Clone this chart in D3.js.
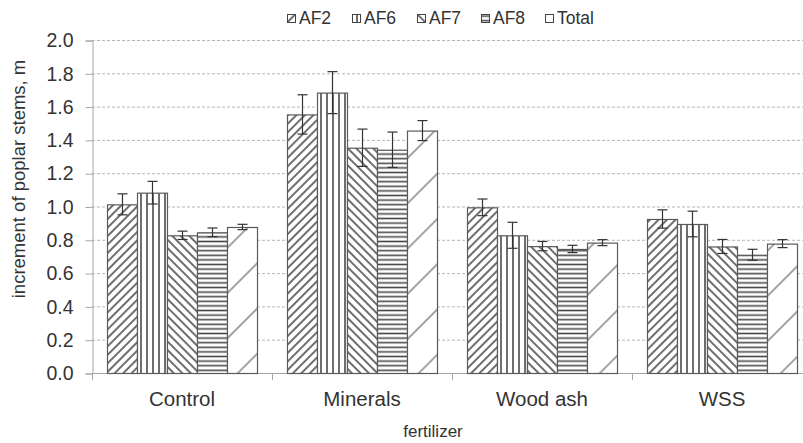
<!DOCTYPE html>
<html>
<head>
<meta charset="utf-8">
<script src="https://cdn.jsdelivr.net/npm/d3@7"></script>
<style>
  body { margin: 0; background: #fff; }
  svg text { font-family: "Liberation Sans", Arial, sans-serif; fill: #333; }
</style>
</head>
<body>
<svg id="chart" width="803" height="443"></svg>
<script>
// datos
const categories = ['Control', 'Minerals', 'Wood ash', 'WSS'];
const series = ['AF2', 'AF6', 'AF7', 'AF8', 'Total'];
const values = {
  AF2:   [1.013, 1.553, 0.995, 0.925],
  AF6:   [1.083, 1.684, 0.827, 0.895],
  AF7:   [0.827, 1.353, 0.762, 0.760],
  AF8:   [0.845, 1.341, 0.745, 0.710],
  Total: [0.877, 1.456, 0.783, 0.777],
};
const errors = {
  AF2:   [0.063, 0.118, 0.050, 0.055],
  AF6:   [0.068, 0.126, 0.078, 0.077],
  AF7:   [0.025, 0.112, 0.028, 0.042],
  AF8:   [0.026, 0.106, 0.022, 0.033],
  Total: [0.016, 0.060, 0.018, 0.024],
};
const yTicks = [0, 0.2, 0.4, 0.6, 0.8, 1.0, 1.2, 1.4, 1.6, 1.8, 2.0];

const svg = d3.select('#chart');
const margin = { left: 92, top: 40, bottom: 373, right: 812 };

const x = d3.scaleBand().domain(categories).range([margin.left, margin.right]);
const xs = d3.scaleBand().domain(series).range([0, x.bandwidth()]).paddingOuter(0.5).paddingInner(0);
const y = d3.scaleLinear().domain([0, 2]).range([margin.bottom, margin.top]);

// patrones de relleno
const defs = svg.append('defs');
function hatch(id, size, angle, sw, color) {
  const p = defs.append('pattern')
    .attr('id', id)
    .attr('patternUnits', 'userSpaceOnUse')
    .attr('width', size).attr('height', size)
    .attr('patternTransform', 'rotate(' + angle + ')');
  p.append('rect').attr('width', size).attr('height', size).attr('fill', '#fff');
  p.append('line').attr('x1', size / 2).attr('y1', 0).attr('x2', size / 2).attr('y2', size)
    .attr('stroke', color).attr('stroke-width', sw);
}
hatch('p-AF2', 6, 45, 1.6, '#4a4a4a');
hatch('p-AF6', 6, 0, 1.6, '#4a4a4a');
hatch('p-AF7', 6, -45, 1.6, '#4a4a4a');
hatch('p-AF8', 4.6, 90, 1.6, '#4a4a4a');
hatch('p-Total', 32, 45, 1.2, '#666');

// lineas de la cuadricula
svg.append('g')
  .selectAll('line')
  .data(yTicks.filter(d => d > 0))
  .join('line')
  .attr('x1', margin.left).attr('x2', 803)
  .attr('y1', d => y(d) + 0.5).attr('y2', d => y(d) + 0.5)
  .attr('stroke', '#b5b5b5')
  .attr('stroke-dasharray', '3,2');

// eje y
const yAxis = svg.append('g')
  .attr('transform', 'translate(' + (margin.left + 0.5) + ',0.5)')
  .call(d3.axisLeft(y).tickValues(yTicks).tickFormat(d3.format('.1f')).tickSize(7).tickPadding(12));
yAxis.select('.domain').attr('stroke', '#a6a6a6');
yAxis.selectAll('.tick line').attr('stroke', '#a6a6a6');
yAxis.selectAll('.tick text').attr('font-size', 19.5).style('fill', '#333')
  .style('font-family', '"Liberation Sans", Arial, sans-serif');

// eje x
svg.append('line')
  .attr('x1', margin.left).attr('x2', 803)
  .attr('y1', margin.bottom + 0.5).attr('y2', margin.bottom + 0.5)
  .attr('stroke', '#a6a6a6');
svg.append('g')
  .selectAll('line')
  .data(categories)
  .join('line')
  .attr('x1', d => x(d) + 0.5).attr('x2', d => x(d) + 0.5)
  .attr('y1', margin.bottom).attr('y2', margin.bottom + 7)
  .attr('stroke', '#a6a6a6');
svg.append('g')
  .selectAll('text')
  .data(categories)
  .join('text')
  .attr('x', d => x(d) + x.bandwidth() / 2)
  .attr('y', 406)
  .attr('text-anchor', 'middle')
  .attr('font-size', 20.5)
  .text(d => d);

// barras
const bars = svg.append('g');
series.forEach(s => {
  categories.forEach((c, i) => {
    const bx = x(c) + xs(s);
    bars.append('rect')
      .attr('x', bx + 0.5)
      .attr('y', y(values[s][i]) + 0.5)
      .attr('width', xs.bandwidth())
      .attr('height', y(0) - y(values[s][i]))
      .attr('fill', 'url(#p-' + s + ')')
      .attr('stroke', '#5a5a5a')
      .attr('stroke-width', 1.2);
  });
});

// barras de error
const errG = svg.append('g');
series.forEach(s => {
  categories.forEach((c, i) => {
    const cx = Math.round(x(c) + xs(s) + xs.bandwidth() / 2) + 0.5;
    const hi = y(values[s][i] + errors[s][i]);
    const lo = y(values[s][i] - errors[s][i]);
    errG.append('line').attr('x1', cx).attr('x2', cx).attr('y1', hi).attr('y2', lo)
      .attr('stroke', '#333').attr('stroke-width', 1.2);
    [hi, lo].forEach(v => {
      errG.append('line').attr('x1', cx - 5).attr('x2', cx + 5).attr('y1', v).attr('y2', v)
        .attr('stroke', '#333').attr('stroke-width', 1.2);
    });
  });
});

// leyenda
const legendX = [287, 352, 417, 481, 545];
const legend = svg.append('g');
series.forEach((s, i) => {
  legend.append('rect')
    .attr('x', legendX[i] + 0.5).attr('y', 14.5)
    .attr('width', 8).attr('height', 8)
    .attr('fill', s === 'Total' ? '#fff' : 'url(#p-' + s + ')')
    .attr('stroke', '#444').attr('stroke-width', 1);
  legend.append('text')
    .attr('x', legendX[i] + 12).attr('y', 24)
    .attr('font-size', 17.5)
    .text(s);
});

// titulos de los ejes
svg.append('text')
  .attr('transform', 'translate(25,' + 179 + ') rotate(-90)')
  .attr('text-anchor', 'middle')
  .attr('font-size', 18.5)
  .text('increment of poplar stems, m');
svg.append('text')
  .attr('x', 433).attr('y', 437)
  .attr('text-anchor', 'middle')
  .attr('font-size', 17)
  .text('fertilizer');
</script>
</body>
</html>
